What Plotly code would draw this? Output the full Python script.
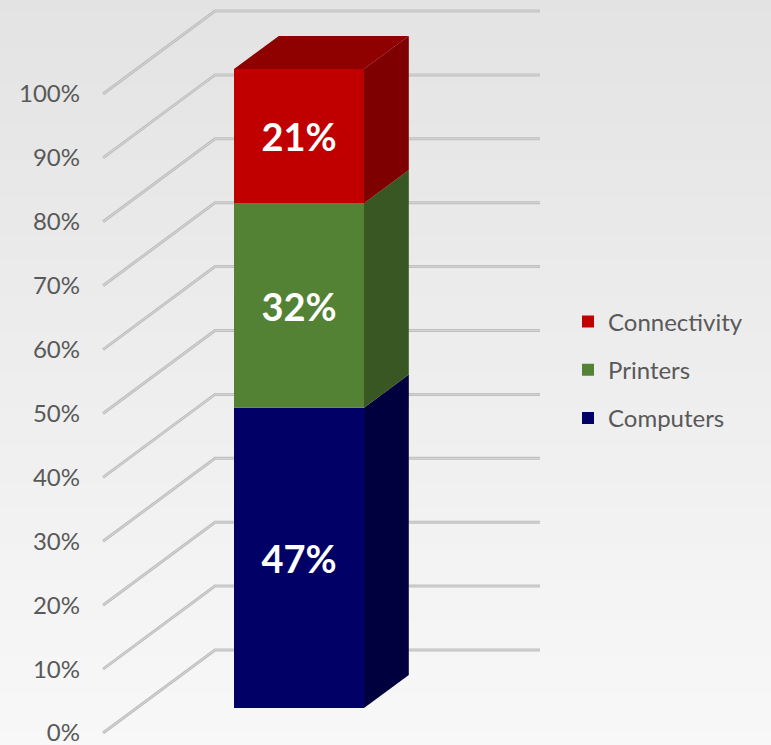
import plotly.graph_objects as go

# ---------------- data ----------------
categories = ["Computers", "Printers", "Connectivity"]
values = [47, 32, 21]
bar_labels = ["47%", "32%", "21%"]
front_colors = ["#000066", "#548235", "#C00000"]
side_colors = ["#00003E", "#385723", "#7F0000"]
top_color = "#8F0000"
tick_values = [0, 10, 20, 30, 40, 50, 60, 70, 80, 90, 100]
tick_labels = ["0%", "10%", "20%", "30%", "40%", "50%", "60%", "70%", "80%", "90%", "100%"]

# ---------------- layout geometry ----------------
FIG_W, FIG_H = 771, 745
ML = 100
PX_PER_UNIT = 6.39                     # vertical pixels per percent
Y_MIN = -12 / PX_PER_UNIT
Y_MAX = Y_MIN + FIG_H / PX_PER_UNIT
X_RANGE = [ML, FIG_W]

DEPTH_DX = 112                         # oblique depth offset (x units)
DEPTH_DY = 83 / PX_PER_UNIT            # oblique depth offset (y units)
FLOOR_X = 103
WALL_X0 = FLOOR_X + DEPTH_DX
WALL_X1 = 540
BAR_X0 = 200.4
BAR_W = 130
BAR_D0, BAR_D1 = 0.3, 0.7

FONT = "Lato, 'Open Sans', sans-serif"
TEXT_COLOR = "#595959"

fig = go.Figure()

# ---------------- gridlines (base subplot) ----------------
gx, gy = [], []
for v in tick_values:
    gx += [FLOOR_X, WALL_X0, WALL_X1, None]
    gy += [v, v + DEPTH_DY, v + DEPTH_DY, None]
fig.add_trace(go.Scatter(x=gx, y=gy, mode="lines", line=dict(color="#BFBFBF", width=3),
                         hoverinfo="skip", showlegend=False))
fig.add_trace(go.Scatter(x=gx, y=gy, mode="lines", line=dict(color="#D6D6D6", width=1),
                         hoverinfo="skip", showlegend=False))

# ---------------- 3D bar (overlay subplot) ----------------
fx0 = BAR_X0 + BAR_D0 * DEPTH_DX
fx1 = fx0 + BAR_W
bx1 = BAR_X0 + BAR_D1 * DEPTH_DX + BAR_W
fy_off = BAR_D0 * DEPTH_DY
dy_bar = (BAR_D1 - BAR_D0) * DEPTH_DY
dx_bar = (BAR_D1 - BAR_D0) * DEPTH_DX

cum = 0
for i, (cat, val) in enumerate(zip(categories, values)):
    b = fy_off + cum
    t = b + val
    # side face
    fig.add_trace(go.Scatter(
        x=[fx1, bx1, bx1, fx1, fx1], y=[b, b + dy_bar, t + dy_bar, t, b],
        fill="toself", fillcolor=side_colors[i], mode="lines", line=dict(width=0),
        hoverinfo="skip", showlegend=False, xaxis="x2", yaxis="y2"))
    # front face
    fig.add_trace(go.Bar(
        x=[(fx0 + fx1) / 2], y=[val], base=[b], width=BAR_W, name=cat,
        marker=dict(color=front_colors[i], line=dict(width=0)),
        text=[bar_labels[i]], textposition="inside", insidetextanchor="middle",
        constraintext="none",
        textfont=dict(family=FONT, size=38, color="white", weight="bold"),
        legendgroup=cat, legendrank=100 - i, xaxis="x2", yaxis="y2"))
    cum += val

# top face
T = fy_off + cum
fig.add_trace(go.Scatter(
    x=[fx0, fx0 + dx_bar, bx1, fx1, fx0], y=[T, T + dy_bar, T + dy_bar, T, T],
    fill="toself", fillcolor=top_color, mode="lines", line=dict(width=0),
    hoverinfo="skip", showlegend=False, xaxis="x2", yaxis="y2"))

# ---------------- background gradient ----------------
shapes = []
N = 60
top_rgb, bot_rgb = 0xE3, 0xF8
for k in range(N):
    f = (k + 0.5) / N
    c = round(top_rgb + (bot_rgb - top_rgb) * f)
    shapes.append(dict(type="rect", xref="paper", yref="paper", layer="below",
                       x0=-0.5, x1=1.5, y0=1 - (k + 1) / N - 0.002, y1=1 - k / N + 0.002,
                       line=dict(width=0), fillcolor=f"rgb({c},{c},{c})"))

fig.update_layout(
    width=FIG_W, height=FIG_H,
    margin=dict(l=ML, r=0, t=0, b=0),
    paper_bgcolor="#EEEEEE", plot_bgcolor="rgba(0,0,0,0)",
    shapes=shapes,
    barmode="overlay",
    showlegend=True,
    legend=dict(x=(568 - ML) / (FIG_W - ML), y=1 - 370 / FIG_H, xanchor="left", yanchor="middle",
                traceorder="grouped", tracegroupgap=14,
                font=dict(family=FONT, size=24, color=TEXT_COLOR), bgcolor="rgba(0,0,0,0)"),
    xaxis=dict(range=X_RANGE, visible=False, fixedrange=True),
    yaxis=dict(range=[Y_MIN, Y_MAX], tickvals=tick_values, ticktext=tick_labels,
               showgrid=False, zeroline=False, showline=False, ticks="",
               ticklabelstandoff=19, ticklabeloverflow="allow",
               tickfont=dict(family=FONT, size=24, color=TEXT_COLOR)),
    xaxis2=dict(range=X_RANGE, overlaying="x", visible=False),
    yaxis2=dict(range=[Y_MIN, Y_MAX], overlaying="y", visible=False),
)

fig.write_html("out.html", config={"displayModeBar": False},
               post_script="document.body.style.margin='0';document.body.style.overflow='hidden';")
